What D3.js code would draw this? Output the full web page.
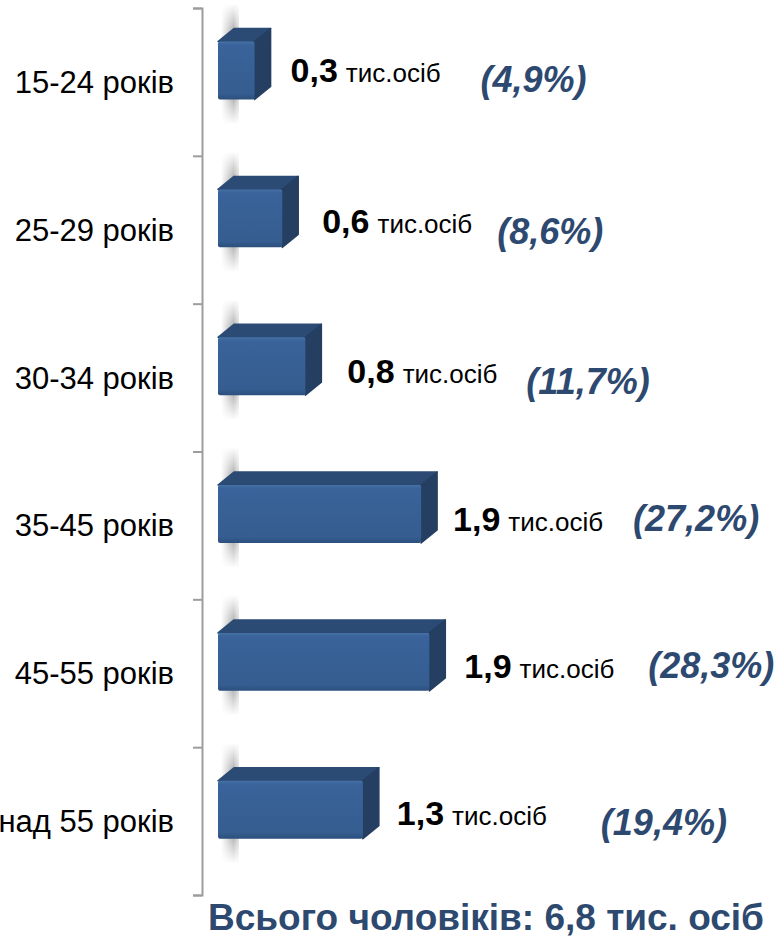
<!DOCTYPE html>
<html>
<head>
<meta charset="utf-8">
<script src="https://cdn.jsdelivr.net/npm/d3@7"></script>
<style>
  html, body { margin: 0; padding: 0; background: #fff; }
  svg { display: block; font-family: Arial, "Liberation Sans", sans-serif; }
</style>
</head>
<body>
<script>
const categories = ['15-24 років', '25-29 років', '30-34 років', '35-45 років', '45-55 років', 'над 55 років'];
const values = [0.3, 0.6, 0.8, 1.9, 1.9, 1.3];     // тис. осіб
const shares = [4.9, 8.6, 11.7, 27.2, 28.3, 19.4]; // %
const total = 6.8;
const unitLabel = 'тис.осіб';
const titleText = 'Всього чоловіків: ';

// hand placed label nudges, as in the original slide
const valueDx = [20, 24, 26, 16, 19, 18];
const valueDy = [0, 3, 5, 5.5, 5, 3.5];
const pctDx = [190, 175, 179, 180, 184, 204];
const pctDy = [10, 14, 16, 5.5, 5, 13.5];

const width = 780;
const height = 938;
const axisX = 202;
const depth = { dx: 16, dy: 13 };
const blue = '#2D4970';

const locale = d3.formatLocale({ decimal: ',', thousands: ' ', grouping: [3], currency: ['', ''] });
const fmt = locale.format('.1f');

const svg = d3.select('body').append('svg')
  .attr('width', width)
  .attr('height', height);

const defs = svg.append('defs');
const front = defs.append('linearGradient').attr('id', 'front')
  .attr('x1', 0).attr('y1', 0).attr('x2', 0).attr('y2', 1);
front.append('stop').attr('offset', 0).attr('stop-color', '#4672A7');
front.append('stop').attr('offset', 0.06).attr('stop-color', '#39639A');
front.append('stop').attr('offset', 0.9).attr('stop-color', '#355D90');
front.append('stop').attr('offset', 1).attr('stop-color', '#2C4F7C');

const shadow = defs.append('linearGradient').attr('id', 'shadow')
  .attr('x1', 0).attr('y1', 0).attr('x2', 1).attr('y2', 0);
shadow.append('stop').attr('offset', 0).attr('stop-color', '#fff');
shadow.append('stop').attr('offset', 0.7).attr('stop-color', '#a9a9a9');
shadow.append('stop').attr('offset', 1).attr('stop-color', '#dcdcdc');

const fade = defs.append('linearGradient').attr('id', 'fade')
  .attr('x1', 0).attr('y1', 0).attr('x2', 0).attr('y2', 1);
fade.append('stop').attr('offset', 0).attr('stop-color', '#fff').attr('stop-opacity', 1);
fade.append('stop').attr('offset', 0.25).attr('stop-color', '#fff').attr('stop-opacity', 0);
fade.append('stop').attr('offset', 0.75).attr('stop-color', '#fff').attr('stop-opacity', 0);
fade.append('stop').attr('offset', 1).attr('stop-color', '#fff').attr('stop-opacity', 1);

const yScale = d3.scaleBand()
  .domain(categories)
  .range([8, 895]);

const yEdge = d3.scaleLinear()
  .domain([0, categories.length])
  .range([8, 895]);

const xScale = d3.scaleLinear()
  .domain([0, 30])
  .range([218, 442]);

const bw = yScale.bandwidth();
const barTop = d => yScale(d.cat) + bw * 0.227;
const barH = bw * 0.392;

const data = categories.map((c, i) => ({ cat: c, value: values[i], share: shares[i], i }));

// axis with ticks between the categories
svg.append('g')
  .attr('transform', `translate(${axisX}, 0)`)
  .call(d3.axisLeft(yEdge).tickValues(d3.range(categories.length + 1)).tickSize(9).tickFormat(''))
  .call(g => g.selectAll('path, line').attr('stroke', '#9d9d9d').attr('stroke-width', 2));

// category labels
svg.append('g').selectAll('text')
  .data(data)
  .enter()
  .append('text')
  .attr('x', 174)
  .attr('y', d => yScale(d.cat) + bw / 2 + 11)
  .attr('text-anchor', 'end')
  .attr('font-size', 31)
  .attr('fill', '#000')
  .text(d => d.cat);

const bars = svg.append('g').selectAll('g')
  .data(data)
  .enter()
  .append('g');

// soft shadow on the back wall
bars.append('rect')
  .attr('x', xScale(0) + 3)
  .attr('y', d => barTop(d) - depth.dy - 24)
  .attr('width', depth.dx + 2)
  .attr('height', barH + depth.dy + 48)
  .attr('fill', 'url(#shadow)');
bars.append('rect')
  .attr('x', xScale(0) + 2)
  .attr('y', d => barTop(d) - depth.dy - 25)
  .attr('width', depth.dx + 4)
  .attr('height', barH + depth.dy + 50)
  .attr('fill', 'url(#fade)');

// top face
bars.append('path')
  .attr('d', d => {
    const x0 = xScale(0);
    const x1 = xScale(d.share);
    const y0 = barTop(d);
    return `M${x0},${y0} L${x0 + depth.dx},${y0 - depth.dy} L${x1 + depth.dx},${y0 - depth.dy} L${x1},${y0} Z`;
  })
  .attr('fill', '#2B4B74')
  .attr('stroke', '#2B4B74')
  .attr('stroke-linejoin', 'round')
  .attr('stroke-width', 1.5);

// side face
bars.append('path')
  .attr('d', d => {
    const x1 = xScale(d.share);
    const y0 = barTop(d);
    return `M${x1},${y0} L${x1 + depth.dx},${y0 - depth.dy} L${x1 + depth.dx},${y0 + barH - depth.dy} L${x1},${y0 + barH} Z`;
  })
  .attr('fill', '#253F63')
  .attr('stroke', '#253F63')
  .attr('stroke-linejoin', 'round')
  .attr('stroke-width', 1.5);

// front face
bars.append('rect')
  .attr('x', xScale(0))
  .attr('y', d => barTop(d))
  .attr('width', d => xScale(d.share) - xScale(0))
  .attr('height', barH)
  .attr('rx', 2)
  .attr('fill', 'url(#front)');

// value labels
const valueText = bars.append('text')
  .attr('x', d => xScale(d.share) + depth.dx + valueDx[d.i])
  .attr('y', d => yScale(d.cat) + bw / 2 + valueDy[d.i])
  .attr('fill', '#000');
valueText.append('tspan')
  .attr('font-size', 34)
  .attr('font-weight', 'bold')
  .text(d => fmt(d.value));
valueText.append('tspan')
  .attr('dx', 8)
  .attr('font-size', 26)
  .text(unitLabel);

// share labels
bars.append('text')
  .attr('x', d => xScale(d.share) + depth.dx + valueDx[d.i] + pctDx[d.i])
  .attr('y', d => yScale(d.cat) + bw / 2 + pctDy[d.i])
  .attr('font-size', 36)
  .attr('font-weight', 'bold')
  .attr('font-style', 'italic')
  .attr('fill', blue)
  .text(d => `(${fmt(d.share)}%)`);

// total
svg.append('text')
  .attr('x', 486)
  .attr('y', 930)
  .attr('text-anchor', 'middle')
  .attr('font-size', 37)
  .attr('font-weight', 'bold')
  .attr('fill', blue)
  .text(`${titleText}${fmt(total)} тис. осіб`);
</script>
</body>
</html>
